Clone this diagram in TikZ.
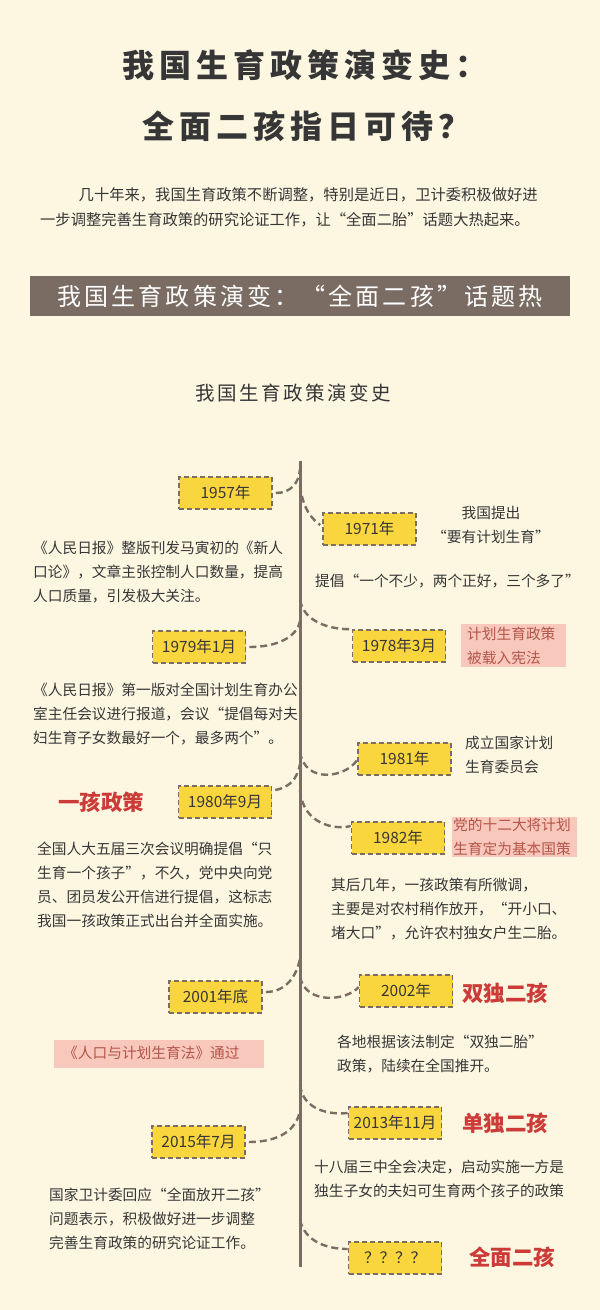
\documentclass[tikz,border=0pt]{standalone}
\usepackage{fontspec}
\setmainfont{Noto Sans CJK SC}
\newfontfamily\ttlfont[LetterSpace=15.6]{Noto Sans CJK SC}
\newfontfamily\bnrfont[LetterSpace=13]{Noto Sans CJK SC}
\usetikzlibrary{calc}
\definecolor{bg}{HTML}{FDF7E2}
\definecolor{dark}{HTML}{363636}
\definecolor{linec}{HTML}{7B6D64}
\definecolor{bannerc}{HTML}{7A6C63}
\definecolor{yel}{HTML}{F9D53E}
\definecolor{pinkc}{HTML}{F9C8BC}
\definecolor{pinktext}{HTML}{B4554A}
\definecolor{redc}{HTML}{CC3B37}
\tikzset{
  datebox/.style={draw=linec, dash pattern=on 5pt off 3pt, line width=1.6pt, fill=yel,
    minimum width=93pt, minimum height=32pt, inner sep=0pt,
    font=\fontsize{15.5}{18}\selectfont, text=dark},
  conn/.style={draw=linec, line width=2.4pt, dash pattern=on 7pt off 4pt},
  tline/.style={draw=linec, line width=3pt},
  body/.style={font=\fontsize{14.7}{24}\selectfont, text=dark, align=left, anchor=north west, inner sep=0pt},
  pinkbox/.style={fill=pinkc, inner sep=0pt},
  pinkbody/.style={font=\fontsize{14.7}{24}\selectfont, text=pinktext, align=left, anchor=north west, inner sep=0pt},
  redlab/.style={font=\bfseries\fontsize{21.5}{24}\selectfont, text=redc, inner sep=0pt}
}
\begin{document}
\begin{tikzpicture}[x=1pt,y=-1pt]
\path[fill=bg] (0,0) rectangle (600,1310);
\useasboundingbox (0,0) rectangle (600,1310);

% titles
\node[anchor=west, inner sep=0pt, text=dark, font=\ttlfont\bfseries\fontsize{32}{38}\selectfont] (title1) at (122.6,65) {我国生育政策演变史：};
\node[anchor=west, inner sep=0pt, text=dark, font=\ttlfont\bfseries\fontsize{32}{38}\selectfont] (title2) at (142,126) {全面二孩指日可待？};

\node[anchor=west, inner sep=0pt, text=dark, font=\fontsize{15.3}{18}\selectfont] (intro1) at (78.5,195) {几十年来，我国生育政策不断调整，特别是近日，卫计委积极做好进};
\node[anchor=west, inner sep=0pt, text=dark, font=\fontsize{15.3}{18}\selectfont] (intro2) at (40,220) {一步调整完善生育政策的研究论证工作，让“全面二胎”话题大热起来。};

\node[fill=bannerc, minimum width=540pt, minimum height=40pt, inner sep=0pt, text=white, font=\bnrfont\fontsize{24}{28}\selectfont] (banner) at (300,296) {我国生育政策演变：“全面二孩”话题热};

\node[inner sep=0pt, text=dark, font=\bnrfont\fontsize{19.5}{22}\selectfont] (sub) at (293.5,393) {我国生育政策演变史};

% timeline
\coordinate (ltop) at (300,461);
\coordinate (lbot) at (300,1267);
\draw[tline] (ltop) -- (lbot);

% junctions
\coordinate (j1957) at (300,469);
\coordinate (j1971) at (300,485);
\coordinate (j1978) at (300,600);
\coordinate (j1979) at (300,621);
\coordinate (j1981) at (300,752);
\coordinate (j1980) at (300,764);
\coordinate (j1982) at (300,790);
\coordinate (j2001) at (300,958);
\coordinate (j2002) at (300,977);
\coordinate (j2013) at (300,1085);
\coordinate (j2015) at (300,1110);
\coordinate (j2020) at (300,1220);

% date boxes
\node[datebox] (b1957) at (225.5,493) {1957年};
\node[datebox] (b1971) at (369.5,529) {1971年};
\node[datebox] (b1978) at (399,646) {1978年3月};
\node[datebox] (b1979) at (199,647) {1979年1月};
\node[datebox] (b1981) at (404.5,759) {1981年};
\node[datebox] (b1980) at (225,802) {1980年9月};
\node[datebox] (b1982) at (398,838) {1982年};
\node[datebox] (b2001) at (215.5,997) {2001年底};
\node[datebox] (b2002) at (406,991) {2002年};
\node[datebox] (b2013) at (395,1123) {2013年11月};
\node[datebox] (b2015) at (198.5,1142) {2015年7月};
\node[datebox] (b2020) at (395,1258) {？？？？};

% connectors
\draw[conn] ([xshift=3pt]b1957.east) .. controls +(15,0) and +(-1,14) .. (j1957);
\draw[conn] (j1971) .. controls +(3,25) and +(-8,-6) .. ([xshift=-2pt,yshift=4pt]b1971.west);
\draw[conn] (j1978) .. controls +(4,22) and +(-20,0) .. ([xshift=-2pt]b1978.north west);
\draw[conn] ([xshift=3pt]b1979.east) .. controls +(28,0) and +(-3,16) .. (j1979);
\draw[conn] (j1981) .. controls +(5,32) and +(-12,18) .. ([yshift=-1pt]b1981.west);
\draw[conn] ([xshift=3pt,yshift=12pt]b1980.east) .. controls +(15,-3) and +(-3,15) .. (j1980);
\draw[conn] (j1982) .. controls +(3,35) and +(-15,4) .. ([yshift=12pt]b1982.west);
\draw[conn] ([xshift=3pt,yshift=5pt]b2001.east) .. controls +(20,0) and +(-3,18) .. (j2001);
\draw[conn] (j2002) .. controls +(6,28) and +(-12,14) .. ([yshift=4pt]b2002.west);
\draw[conn] (j2013) .. controls +(3,25) and +(-18,2) .. ([yshift=10pt]b2013.west);
\draw[conn] ([xshift=3pt]b2015.east) .. controls +(30,0) and +(-3,20) .. (j2015);
\draw[conn] (j2020) .. controls +(5,22) and +(-20,0) .. ([yshift=9pt]b2020.west);

% pink highlights
\node[pinkbox, minimum width=105pt, minimum height=43pt] (pk1978) at (513.5,645.5) {};
\node[pinkbox, minimum width=125pt, minimum height=40pt] (pk1982) at (514.5,837) {};
\node[pinkbox, minimum width=210pt, minimum height=28pt] (pk2001) at (159,1054) {};

\node[pinkbody] (t1978) at (467,627) {计划生育政策\\被载入宪法};
\node[pinkbody] (t1982) at (453,818) {党的十二大将计划\\生育定为基本国策};
\node[pinkbody] (t2001) at (63,1046) {《人口与计划生育法》通过};

% red labels
\node[redlab] (l1) at (101,802) {一孩政策};
\node[redlab, anchor=west] (l2) at (462,993) {双独二孩};
\node[redlab, anchor=west] (l3) at (462,1123) {单独二孩};
\node[redlab, anchor=west] (l4) at (469,1257) {全面二孩};

% body texts
\node[body] (p1957) at (33,541) {《人民日报》整版刊发马寅初的《新人\\口论》，文章主张控制人口数量，提高\\人口质量，引发极大关注。};
\node[body, align=center, anchor=north] (p1971a) at (491,506) {我国提出\\“要有计划生育”};
\node[body] (p1971b) at (315,574) {提倡“一个不少，两个正好，三个多了”};
\node[body] (p1979) at (33,683) {《人民日报》第一版对全国计划生育办公\\室主任会议进行报道，会议“提倡每对夫\\妇生育子女数最好一个，最多两个”。};
\node[body] (p1981) at (465,736) {成立国家计划\\生育委员会};
\node[body] (p1980) at (37,842) {全国人大五届三次会议明确提倡“只\\生育一个孩子”，不久，党中央向党\\员、团员发公开信进行提倡，这标志\\我国一孩政策正式出台并全面实施。};
\node[body] (p1982) at (331,878) {其后几年，一孩政策有所微调，\\主要是对农村稍作放开，“开小口、\\堵大口”，允许农村独女户生二胎。};
\node[body] (p2002) at (337,1035) {各地根据该法制定“双独二胎”\\政策，陆续在全国推开。};
\node[body] (p2013) at (314,1160) {十八届三中全会决定，启动实施一方是\\独生子女的夫妇可生育两个孩子的政策};
\node[body] (p2015) at (49,1188) {国家卫计委回应“全面放开二孩”\\问题表示，积极做好进一步调整\\完善生育政策的研究论证工作。};
\end{tikzpicture}
\end{document}
